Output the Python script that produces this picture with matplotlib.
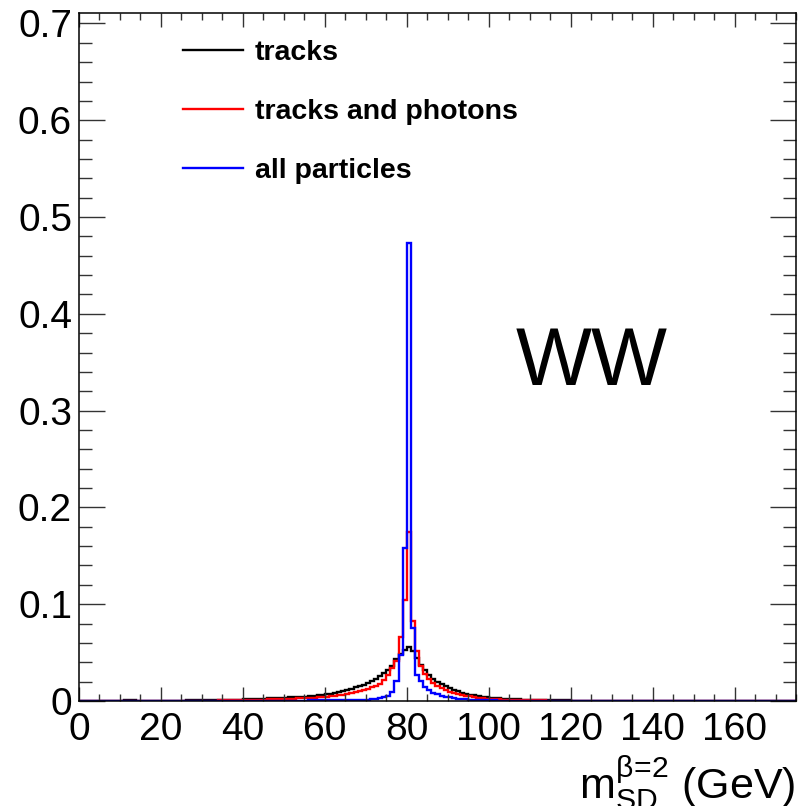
import numpy as np
import matplotlib
matplotlib.use('Agg')
import matplotlib.pyplot as plt
from matplotlib.ticker import MultipleLocator, FuncFormatter

plt.rcParams['font.family'] = ['Liberation Sans', 'DejaVu Sans']
plt.rcParams['mathtext.fontset'] = 'custom'
plt.rcParams['mathtext.rm'] = 'Liberation Sans'
plt.rcParams['mathtext.it'] = 'Liberation Sans:italic'

# 1 GeV bins, values listed for bins 10..129 (all others empty)
first_bin = 10
n_bins = 175

tracks = [
    0.0000, 0.0005, 0.0005, 0.0005, 0.0003, 0.0003, 0.0003, 0.0003, 0.0003, 0.0003,
    0.0003, 0.0003, 0.0004, 0.0004, 0.0004, 0.0004, 0.0005, 0.0005, 0.0005, 0.0005,
    0.0006, 0.0006, 0.0007, 0.0007, 0.0008, 0.0009, 0.0010, 0.0011, 0.0012, 0.0013,
    0.0020, 0.0021, 0.0022, 0.0023, 0.0024, 0.0025, 0.0026, 0.0027, 0.0029, 0.0031,
    0.0034, 0.0036, 0.0038, 0.0040, 0.0043, 0.0046, 0.0050, 0.0054, 0.0059, 0.0064,
    0.0070, 0.0077, 0.0085, 0.0094, 0.0104, 0.0115, 0.0127, 0.0140, 0.0154, 0.0170,
    0.0188, 0.0208, 0.0230, 0.0255, 0.0285, 0.0320, 0.0365, 0.0430, 0.0490, 0.0525,
    0.0555, 0.0520, 0.0445, 0.0375, 0.0315, 0.0270, 0.0232, 0.0200, 0.0173, 0.0150,
    0.0130, 0.0113, 0.0098, 0.0086, 0.0075, 0.0066, 0.0058, 0.0051, 0.0045, 0.0040,
    0.0035, 0.0031, 0.0028, 0.0025, 0.0022, 0.0020, 0.0018, 0.0016, 0.0014, 0.0013,
    0.0012, 0.0011, 0.0010, 0.0009, 0.0008, 0.0007, 0.0006, 0.0006, 0.0005, 0.0005,
    0.0004, 0.0004, 0.0004, 0.0003, 0.0003, 0.0003, 0.0002, 0.0002, 0.0002, 0.0002,
]

tracks_photons = [
    0.0003, 0.0003, 0.0003, 0.0003, 0.0002, 0.0002, 0.0002, 0.0002, 0.0002, 0.0002,
    0.0002, 0.0002, 0.0002, 0.0002, 0.0002, 0.0002, 0.0002, 0.0003, 0.0003, 0.0003,
    0.0003, 0.0003, 0.0004, 0.0004, 0.0005, 0.0005, 0.0006, 0.0006, 0.0007, 0.0007,
    0.0010, 0.0011, 0.0012, 0.0013, 0.0014, 0.0015, 0.0016, 0.0017, 0.0018, 0.0020,
    0.0021, 0.0023, 0.0024, 0.0026, 0.0028, 0.0030, 0.0032, 0.0035, 0.0038, 0.0041,
    0.0045, 0.0049, 0.0054, 0.0060, 0.0066, 0.0073, 0.0081, 0.0090, 0.0100, 0.0112,
    0.0125, 0.0140, 0.0155, 0.0175, 0.0215, 0.0265, 0.0340, 0.0410, 0.0660, 0.1040,
    0.1750, 0.0830, 0.0520, 0.0360, 0.0280, 0.0225, 0.0185, 0.0155, 0.0132, 0.0112,
    0.0096, 0.0083, 0.0072, 0.0063, 0.0055, 0.0047, 0.0040, 0.0034, 0.0029, 0.0025,
    0.0022, 0.0019, 0.0017, 0.0015, 0.0013, 0.0012, 0.0011, 0.0010, 0.0009, 0.0008,
    0.0007, 0.0006, 0.0005, 0.0005, 0.0004, 0.0004, 0.0003, 0.0003, 0.0003, 0.0002,
    0.0002, 0.0002, 0.0002, 0.0002, 0.0001, 0.0001, 0.0001, 0.0001, 0.0001, 0.0001,
]

all_particles = [
    0.0002, 0.0002, 0.0002, 0.0002, 0.0002, 0.0002, 0.0002, 0.0002, 0.0002, 0.0002,
    0.0002, 0.0002, 0.0002, 0.0002, 0.0002, 0.0002, 0.0002, 0.0002, 0.0002, 0.0002,
    0.0002, 0.0002, 0.0002, 0.0002, 0.0002, 0.0002, 0.0002, 0.0002, 0.0002, 0.0002,
    0.0002, 0.0002, 0.0002, 0.0002, 0.0002, 0.0002, 0.0002, 0.0003, 0.0003, 0.0003,
    0.0003, 0.0003, 0.0003, 0.0004, 0.0004, 0.0004, 0.0005, 0.0005, 0.0005, 0.0006,
    0.0006, 0.0006, 0.0007, 0.0007, 0.0008, 0.0008, 0.0009, 0.0010, 0.0011, 0.0012,
    0.0014, 0.0017, 0.0021, 0.0028, 0.0038, 0.0055, 0.0095, 0.0210, 0.0470, 0.1580,
    0.4730, 0.0750, 0.0270, 0.0210, 0.0140, 0.0110, 0.0085, 0.0068, 0.0055, 0.0045,
    0.0038, 0.0031, 0.0025, 0.0020, 0.0016, 0.0013, 0.0011, 0.0009, 0.0008, 0.0007,
    0.0006, 0.0005, 0.0004, 0.0004, 0.0003, 0.0003, 0.0003, 0.0002, 0.0002, 0.0002,
    0.0002, 0.0002, 0.0002, 0.0001, 0.0001, 0.0001, 0.0001, 0.0001, 0.0001, 0.0001,
    0.0001, 0.0001, 0.0001, 0.0001, 0.0001, 0.0001, 0.0001, 0.0001, 0.0001, 0.0001,
]

labels = ['tracks', 'tracks and photons', 'all particles']
colors = ['black', 'red', 'blue']
x_ticks = [0, 20, 40, 60, 80, 100, 120, 140, 160]
y_ticks = [0, 0.1, 0.2, 0.3, 0.4, 0.5, 0.6, 0.7]

edges = np.arange(0, n_bins + 1)

fig = plt.figure(figsize=(7.98, 8.06), dpi=100)
ax = fig.add_axes([0.0990, 0.1303, 0.8985, 0.8532])

handles = []
for vals, lab, col in zip([tracks, tracks_photons, all_particles], labels, colors):
    counts = np.zeros(n_bins)
    counts[first_bin:first_bin + len(vals)] = vals
    h = ax.stairs(counts, edges, color=col, linewidth=1.7, label=lab)
    handles.append(h)

ax.set_xlim(0, 175)
ax.set_ylim(0, 0.7105)

ax.set_xticks(x_ticks)
ax.set_yticks(y_ticks)
ax.xaxis.set_minor_locator(MultipleLocator(5))
ax.yaxis.set_minor_locator(MultipleLocator(0.02))
ax.yaxis.set_major_formatter(FuncFormatter(lambda v, p: '%g' % v))

ax.tick_params(which='both', direction='in', top=True, right=True, width=1.0,
               color='#333333', labelsize=28)
ax.tick_params(axis='x', which='major', length=10, pad=8)
ax.tick_params(axis='x', which='minor', length=5)
ax.tick_params(axis='y', which='major', length=19, pad=5)
ax.tick_params(axis='y', which='minor', length=9.5)
for s in ax.spines.values():
    s.set_linewidth(1.1)

# axis title, ROOT style at the right end (bottom is clipped like the original)
fig.text(0.9975, 0.008, r'm$_{\mathrm{SD}}^{\mathrm{β\!=\!2}}$ (GeV)', ha='right',
         va='baseline', fontsize=31)

ax.text(0.715, 0.49, 'WW', transform=ax.transAxes, ha='center', va='center',
        fontsize=58)

leg = ax.legend(handles=handles, loc='upper left', bbox_to_anchor=(0.2293, 0.950),
                bbox_transform=fig.transFigure, frameon=False,
                prop={'weight': 'bold', 'size': 20.5}, handlelength=2.1,
                handletextpad=0.42, labelspacing=1.16, borderpad=0, borderaxespad=0)

fig.savefig('out.png', dpi=100)
